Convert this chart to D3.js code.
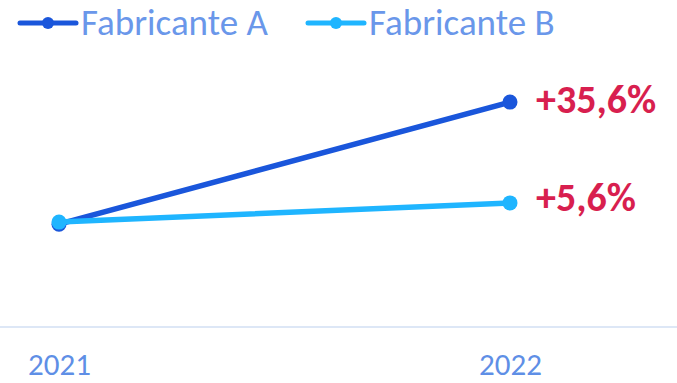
<!DOCTYPE html>
<html>
<head>
<meta charset="utf-8">
<script src="https://cdn.jsdelivr.net/npm/d3@7"></script>
<style>
  html, body { margin: 0; padding: 0; background: #fff; }
  svg { display: block; font-family: Carlito, Calibri, Lato, sans-serif; }
</style>
</head>
<body>
<svg id="chart" width="677" height="383"></svg>
<script>
// Years on the x axis
const years = ["2021", "2022"];
// Index values per manufacturer (2021 ≈ 100)
const fabricanteA = [100, 135.6];
const fabricanteB = [100.6, 106.2];
const seriesNames = ["Fabricante A", "Fabricante B"];
const seriesColors = ["#1a56db", "#1fb5ff"];

const series = [
  { name: seriesNames[0], values: fabricanteA, color: seriesColors[0] },
  { name: seriesNames[1], values: fabricanteB, color: seriesColors[1] }
];

const svg = d3.select("#chart");

const x = d3.scalePoint().domain(years).range([59, 510]);
const y = d3.scaleLinear().domain([70, 140]).range([327, 87]);

// Baseline axis
svg.append("line")
  .attr("x1", 0).attr("x2", 677)
  .attr("y1", y(70)).attr("y2", y(70))
  .attr("stroke", "#dde7f6").attr("stroke-width", 2);

const xAxis = d3.axisBottom(x).tickSize(0).tickPadding(0);
const gx = svg.append("g").attr("transform", "translate(0,353)").call(xAxis);
gx.select(".domain").remove();
gx.selectAll("text")
  .attr("fill", "#5f8fe6")
  .attr("font-size", 31)
  .attr("font-family", "Carlito, Calibri, Lato, sans-serif");

// Lines and points
const line = d3.line().x((d, i) => x(years[i])).y(d => y(d));
const fmt = v => "+" + d3.format(".1f")(v).replace(".", ",") + "%";

series.forEach(s => {
  svg.append("path")
    .attr("d", line(s.values))
    .attr("fill", "none")
    .attr("stroke", s.color)
    .attr("stroke-width", 5.5)
    .attr("stroke-linecap", "round");
  svg.selectAll(null)
    .data(s.values)
    .enter().append("circle")
    .attr("cx", (d, i) => x(years[i]))
    .attr("cy", d => y(d))
    .attr("r", 7.5)
    .attr("fill", s.color);
});

// Growth labels at the 2022 end of each line
const labelShift = [11, 8];
series.forEach((s, i) => {
  const last = s.values[s.values.length - 1];
  const growth = (last / s.values[0] - 1) * 100;
  svg.append("text")
    .attr("x", x(years[1]) + 26)
    .attr("y", y(last) + labelShift[i])
    .attr("fill", "#d81f4f")
    .attr("font-weight", "bold")
    .attr("font-size", 40)
    .text(fmt(growth));
});

// Legend
const legendX = [20, 308];
series.forEach((s, i) => {
  const g = svg.append("g").attr("transform", `translate(${legendX[i]},23)`);
  g.append("line")
    .attr("x1", 0).attr("x2", 56)
    .attr("stroke", s.color).attr("stroke-width", 5)
    .attr("stroke-linecap", "round");
  g.append("circle").attr("cx", 28).attr("r", 6).attr("fill", s.color);
  g.append("text")
    .attr("x", 61).attr("y", 12)
    .attr("fill", "#6a97ea")
    .attr("font-size", 37)
    .text(s.name);
});
</script>
</body>
</html>
